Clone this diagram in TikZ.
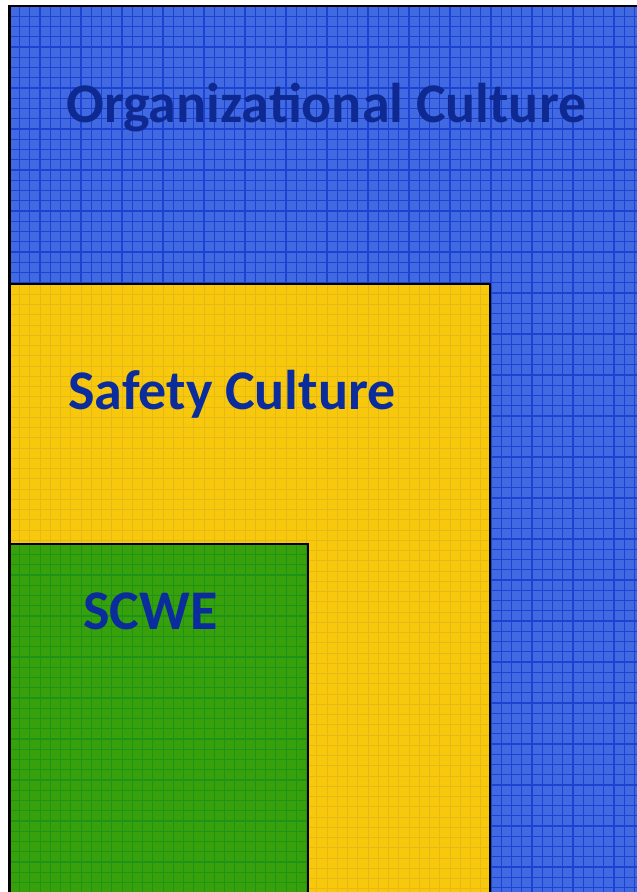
\documentclass[tikz,border=0pt]{standalone}
\usepackage{fontspec}
\setmainfont{Carlito}
\definecolor{orgblue}{HTML}{4169E1}
\definecolor{orggrid}{HTML}{1C42D2}
\definecolor{safeyellow}{HTML}{F8C80C}
\definecolor{safegrid}{HTML}{E6B818}
\definecolor{scwegreen}{HTML}{38A00A}
\definecolor{scwegrid}{HTML}{1C9418}
\definecolor{labelblue}{HTML}{0A2C9C}
\definecolor{orglabel}{HTML}{0E2A92}
\begin{document}
\begin{tikzpicture}[x=1pt,y=1pt,
  layerlabel/.style={anchor=base west,inner sep=0pt,text=labelblue,
    font=\fontsize{56}{64}\selectfont\bfseries},
  frame/.style={draw=black,line width=2.4pt}]
\useasboundingbox (0,0) rectangle (637,892);
\clip (0,0) rectangle (637,892);
\def\gap{10.25}
% outer layer: organizational culture
\fill[orgblue] (9.3,-5) rectangle (645,886);
\foreach \i in {0,...,62} {
  \draw[orggrid,line width=1.2pt] ({9.3+\gap*\i},-5) -- ({9.3+\gap*\i},886);
}
\foreach \j in {0,...,87} {
  \draw[orggrid,line width=1.2pt] (9.3,{886-\gap*\j}) -- (645,{886-\gap*\j});
}
\draw[frame] (9.3,-5) -- (9.3,886) -- (645,886);
% middle layer: safety culture
\fill[safeyellow] (9.3,-5) rectangle (489.7,608);
\foreach \i in {0,...,46} {
  \draw[safegrid,line width=0.8pt] ({9.3+\gap*\i},-5) -- ({9.3+\gap*\i},608);
}
\foreach \j in {0,...,59} {
  \draw[safegrid,line width=0.8pt] (9.3,{608-\gap*\j}) -- (489.7,{608-\gap*\j});
}
\draw[frame] (9.3,-5) -- (9.3,608) -- (489.7,608) -- (489.7,-5);
% inner layer: SCWE
\fill[scwegreen] (9.3,-5) rectangle (307.7,347.7);
\foreach \i in {0,...,29} {
  \draw[scwegrid,line width=1.1pt] ({9.3+\gap*\i},-5) -- ({9.3+\gap*\i},347.7);
}
\foreach \j in {0,...,34} {
  \draw[scwegrid,line width=1.1pt] (9.3,{347.7-\gap*\j}) -- (307.7,{347.7-\gap*\j});
}
\draw[frame] (9.3,-5) -- (9.3,347.7) -- (307.7,347.7) -- (307.7,-5);
% labels
\node[layerlabel,text=orglabel] (org) at (66,769) {Organizational Culture};
\node[layerlabel] (safety) at (68,482) {Safety Culture};
\node[layerlabel] (scwe) at (83,262) {SCWE};
\end{tikzpicture}
\end{document}
